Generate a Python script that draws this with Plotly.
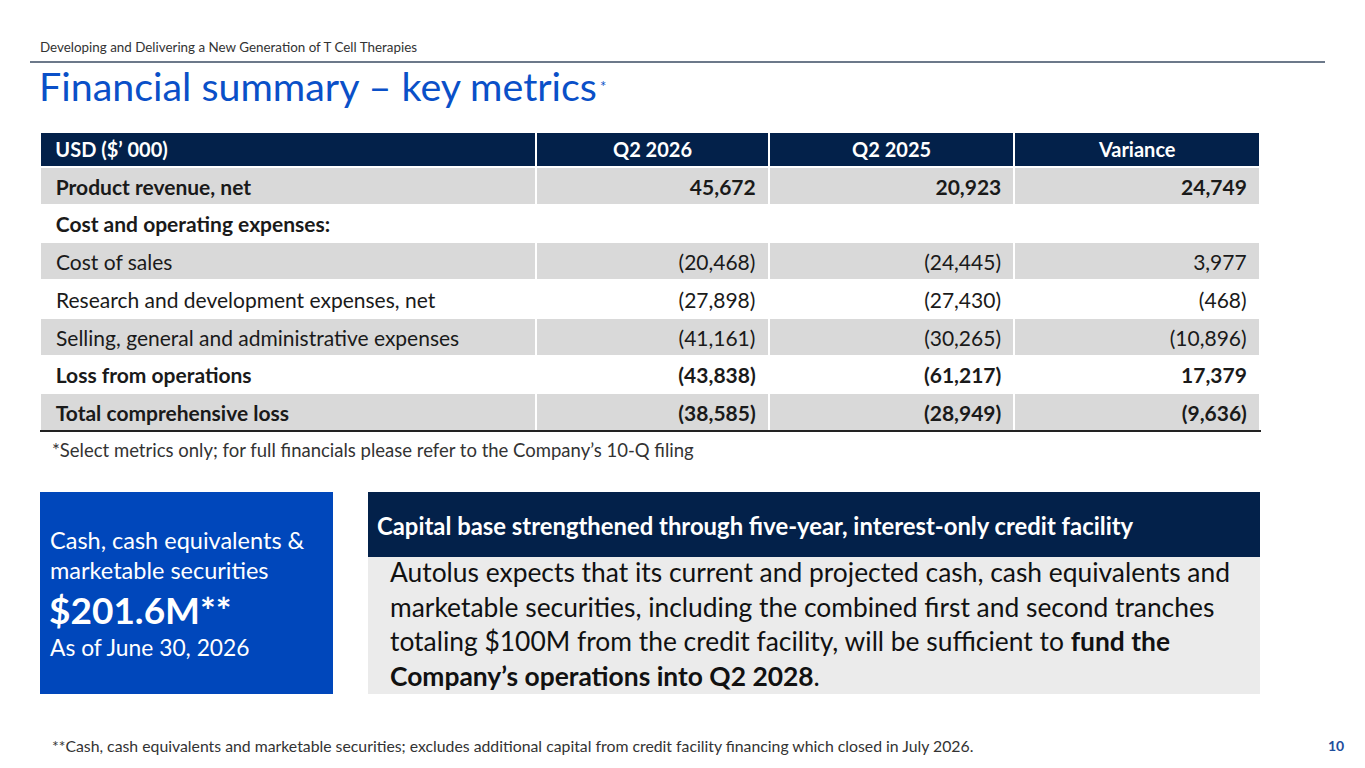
import plotly.graph_objects as go

# the page adds an 8px body margin, so the figure is drawn 8px in and 8px down
OFF = 8
W, H = 1365 - OFF, 768 - OFF

# table data (USD $'000)
columns = ["USD ($’ 000)", "Q2 2026", "Q2 2025", "Variance"]
metrics = [
    "Product revenue, net",
    "Cost and operating expenses:",
    "Cost of sales",
    "Research and development expenses, net",
    "Selling, general and administrative expenses",
    "Loss from operations",
    "Total comprehensive loss",
]
q2_2026 = [45672, None, -20468, -27898, -41161, -43838, -38585]
q2_2025 = [20923, None, -24445, -27430, -30265, -61217, -28949]
variance = [24749, None, 3977, -468, -10896, 17379, -9636]
bold_rows = [True, True, False, False, False, True, True]

cash_value = "$201.6M**"
cash_date = "As of June 30, 2026"

NAVY = "#03214a"
BLUE = "#0047bb"
TITLE_BLUE = "#0a50c8"
GREY_ROW = "#d9d9d9"
TEXT = "#1a1a1a"
CLEAR = "rgba(0,0,0,0)"


def fmt(v):
    if v is None:
        return ""
    if v < 0:
        return f"({abs(v):,})"
    return f"{v:,}"


def px(x):
    return (x - OFF) / W


def py(y):
    return 1 - (y - OFF) / H


pad = "\u00a0\u2009"
col_text = [
    [pad + m for m in metrics],
    [fmt(v) + "\u00a0" for v in q2_2026],
    [fmt(v) + "\u00a0" for v in q2_2025],
    [fmt(v) + "\u00a0" for v in variance],
]
row_fill = [GREY_ROW if i % 2 == 0 else "white" for i in range(len(metrics))]
n_rows = len(metrics)

# fills in a base table; plain rows and bold rows as text in two clear tables on top
plain_text = [[t if not bo else "" for t, bo in zip(col, bold_rows)] for col in col_text]
bold_text = [[t if bo else "" for t, bo in zip(col, bold_rows)] for col in col_text]

widths = [495, 232, 245, 245]
aligns = ["left", "right", "right", "right"]
HEAD_H, ROW_H = 35, 37.7

fig = go.Figure()

fig.add_trace(go.Table(
    domain=dict(x=[px(40), px(1260)], y=[py(436), py(132)]),
    columnwidth=widths,
    header=dict(values=["\u00a0"] * 4, fill_color=NAVY,
                line=dict(color="white", width=2), height=HEAD_H),
    cells=dict(values=[[""] * n_rows] * 4,
               fill=dict(color=[row_fill] * 4),
               line=dict(color="white", width=2), height=ROW_H),
))

text_domain = dict(x=[px(40), px(1260)], y=[py(442), py(134)])
fig.add_trace(go.Table(
    domain=text_domain,
    columnwidth=widths,
    header=dict(values=["\u00a0"] * 4, fill_color=CLEAR,
                line=dict(color=CLEAR, width=0), height=HEAD_H + 2),
    cells=dict(values=plain_text, fill=dict(color=CLEAR),
               font=dict(color=TEXT, size=21, family="Lato"),
               align=aligns, line=dict(color=CLEAR, width=0), height=ROW_H),
))
fig.add_trace(go.Table(
    domain=text_domain,
    columnwidth=widths,
    header=dict(values=[pad + columns[0]] + columns[1:], fill_color=CLEAR,
                font=dict(color="white", size=20, family="Lato", weight="bold"),
                align=["left", "center", "center", "center"],
                line=dict(color=CLEAR, width=0), height=HEAD_H + 2),
    cells=dict(values=bold_text, fill=dict(color=CLEAR),
               font=dict(color=TEXT, size=21, family="Lato", weight="bold"),
               align=aligns, line=dict(color=CLEAR, width=0), height=ROW_H),
))

shapes = [
    # header rule
    dict(type="line", xref="paper", yref="paper",
         x0=px(30), x1=px(1325), y0=py(62), y1=py(62),
         line=dict(color="#3b4c63", width=1.5)),
    # table bottom rule
    dict(type="line", xref="paper", yref="paper",
         x0=px(40), x1=px(1261), y0=py(431), y1=py(431),
         line=dict(color="#222222", width=2)),
    # cash box
    dict(type="rect", xref="paper", yref="paper",
         x0=px(40), x1=px(333), y0=py(694), y1=py(492),
         fillcolor=BLUE, line=dict(width=0)),
    # capital base header
    dict(type="rect", xref="paper", yref="paper",
         x0=px(368), x1=px(1260), y0=py(557), y1=py(492),
         fillcolor=NAVY, line=dict(width=0)),
    # capital base body
    dict(type="rect", xref="paper", yref="paper",
         x0=px(368), x1=px(1260), y0=py(694), y1=py(557),
         fillcolor="#ebebeb", line=dict(width=0)),
]


def note(x, y, text, size, color=TEXT, anchor="left", weight="normal"):
    fig.add_annotation(x=px(x), y=py(y), xref="paper", yref="paper", text=text,
                       showarrow=False, xanchor=anchor, yanchor="middle",
                       font=dict(size=size, color=color, family="Lato", weight=weight))


note(38, 47, "Developing and Delivering a New Generation of T Cell Therapies", 13.4, "#333333")
note(37, 86, "Financial summary – key metrics", 39.4, TITLE_BLUE)
note(598, 86, "*", 15, TITLE_BLUE)
note(50, 450, "*Select metrics only; for full financials please refer to the Company’s 10-Q filing", 18.5, "#333333")

note(48, 540, "Cash, cash equivalents &", 23.5, "white")
note(48, 570, "marketable securities", 23.5, "white")
note(47, 609, cash_value, 37, "white", weight="bold")
note(48, 647, cash_date, 22.8, "white")

note(375, 525, "Capital base strengthened through five-year, interest-only credit facility", 23.85, "white", weight="bold")
body = [
    "Autolus expects that its current and projected cash, cash equivalents and",
    "marketable securities, including the combined first and second tranches",
    "totaling $100M from the credit facility, will be sufficient to <b>fund the</b>",
    "<b>Company’s operations into Q2 2028</b>.",
]
for i, line in enumerate(body):
    note(388, 572 + i * 34.5, line, 26.4, "#111111")

note(50, 745, "**Cash, cash equivalents and marketable securities; excludes additional capital from credit facility financing which closed in July 2026.", 15.8, "#333333")
note(1346, 745, "10", 14, "#1f4e9c", anchor="right", weight="bold")

fig.update_layout(
    width=W, height=H,
    margin=dict(l=0, r=0, t=0, b=0),
    paper_bgcolor="white",
    plot_bgcolor="white",
    font=dict(family="Lato"),
    shapes=shapes,
    showlegend=False,
)

fig.write_html("out.html")
